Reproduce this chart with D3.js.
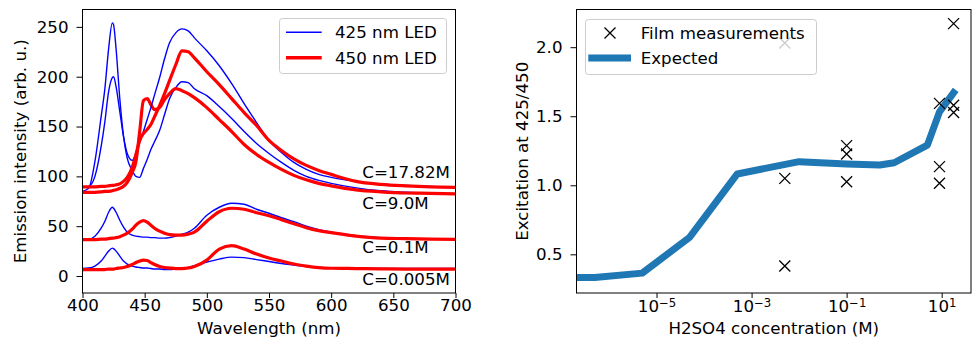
<!DOCTYPE html>
<html>
<head>
<meta charset="utf-8">
<script src="https://cdn.jsdelivr.net/npm/d3@7"></script>
<style>
  body { margin: 0; background: #fff; }
  text { font-family: "DejaVu Sans", sans-serif; font-size: 16.67px; fill: #000; }
</style>
</head>
<body>
<script>
// Emission spectra (arb. u.) on one wavelength grid
const wavelengths = [400,405,410,415,418,421,424,425,427,430,433,436,440,443,446,449,452,455,458,462,466,470,475,480,485,490,500,510,520,530,540,550,560,570,580,590,600,620,640,660,680,700];

const blue1782 = [89,90,100,130,155,185,199,200,190,165,140,123,116,123,134,145,157,169,182,199,218,234,244,248,246,239,226,211,193,173,154,136,124,114,107,102,99,95,92.5,91,90,89.5];
const red1782  = [89.5,89.5,89.5,90,90,90.5,91,91,91.5,92.5,95,99,109,122,136,143,147,152,160,171,183,196,212,226,225,219,205,192,178,164,151,136,126,117.5,111,106,102,95,92,90.5,89.5,89];
const blue90   = [85,88,115,160,188,228,254,252,228,178,140,118,106,100,99,108,117,127,135,146,162,178,189,195,194,188,181,170,158,145,133,123,114,106,100,96,93,88.5,85.5,84,83,82.5];
const red90    = [84,84,84,84.5,85,85,85.5,86,86.5,88,90,94,104,115,145,176,178,172,167,169,177,183,188,186,183,179,169,157,145,132,122,114,107,101,96.5,93,90.5,86.5,84.5,83.3,83,82.5];
const blue01   = [37,37,40,48,55,64,69,68,64,56,49,44,41,40,39.5,39,39,38.5,38.5,38,38,38.5,40,42,44,48,61,69,73,72,67,63,58.5,54.5,50,46.5,44,40.5,38.5,37.5,37,37];
const red01    = [36.5,36.5,36.5,37,37,37.5,38,38,38.5,39.5,41,43,47,51,54,55.5,54,51,48,45,43,41.5,41,41,42,44,55,64.5,68,67,63.5,60.5,56.5,52.5,48.5,45.5,43.5,40,38,37.5,37,36.8];
const blue0005 = [7.5,8,10,15,20,25,28,27.5,25,20,15,12,10,9,8.5,8,8,7.5,7,7,6.5,6.5,7,7.5,8.5,10.5,14,17,19,18.5,16.5,14.5,12.5,11,9.5,8.5,8,7.5,7.5,7.5,7.5,7.5];
const red0005  = [6.5,6.5,6.5,6.5,6.5,7,7,7,7.5,8,8.5,9.5,11.5,13.5,15,16,15.5,13.5,11.5,9.5,8.5,8,7.5,7.5,8,9.5,16,27,30.5,27,22,18,15,12,10,8.5,7.8,7.5,7.2,7,7,7];

const concNames = ["C=17.82M", "C=9.0M", "C=0.1M", "C=0.005M"];
const concNameAt = [98.5, 67, 23, -9];   // intensity where each label sits, at 625 nm

// Excitation ratio vs acid concentration
const expConc  = [0, 5e-7, 5e-6, 5e-5, 5e-4, 0.01, 0.1, 0.5, 1, 5, 9, 17.82];
const expRatio = [0.332, 0.332, 0.364, 0.624, 1.082, 1.171, 1.154, 1.147, 1.163, 1.291, 1.532, 1.67];
const measConc  = [5e-3, 5e-3, 5e-3, 0.1, 0.1, 0.1, 9, 9, 9, 17.82, 17.82, 17.82];
const measRatio = [2.03, 1.05, 0.416, 1.287, 1.226, 1.026, 1.593, 1.135, 1.015, 2.171, 1.58, 1.527];

const wlTicks = [400, 450, 500, 550, 600, 650, 700];
const intTicks = [0, 50, 100, 150, 200, 250];
const concTicks = [1e-5, 1e-3, 1e-1, 1e1];
const ratioTicks = [0.5, 1.0, 1.5, 2.0];

const BLUE = "#0000ff", RED = "#ff0000", TAB = "#1f77b4";

const svg = d3.select("body").append("svg")
    .attr("width", 980)
    .attr("height", 352);

// two panels, in pixels
const L = {left: 82.5, right: 455.5, top: 9.5, bottom: 293};
const R = {left: 576.5, right: 971, top: 9.5, bottom: 293};

const x1 = d3.scaleLinear().domain([400, 700]).range([L.left, L.right]);
const y1 = d3.scaleLinear().domain([-17.05, 267.45]).range([L.bottom, L.top]);
const x2 = d3.scaleLog().domain([Math.pow(10, -6.684), Math.pow(10, 1.617)]).range([R.left, R.right]);
const y2 = d3.scaleLinear().domain([0.220, 2.273]).range([R.bottom, R.top]);

const cleanAxis = g => {
    g.attr("font-size", null).attr("font-family", null);
    g.select(".domain").remove();
    g.selectAll(".tick line").attr("stroke", "#000").attr("stroke-width", 1);
    g.selectAll(".tick text").attr("fill", "#000");
}

// ---------- left panel ----------
svg.append("g")
    .attr("transform", `translate(0,${L.bottom})`)
    .call(d3.axisBottom(x1).tickValues(wlTicks).tickSize(5).tickPadding(1).tickSizeOuter(0))
    .call(cleanAxis);

svg.append("g")
    .attr("transform", `translate(${L.left},0)`)
    .call(d3.axisLeft(y1).tickValues(intTicks).tickSize(6).tickPadding(8).tickSizeOuter(0))
    .call(cleanAxis);

const spectra = [
    {v: blue0005, c: BLUE, w: 1.4}, {v: red0005, c: RED, w: 3.2},
    {v: blue01, c: BLUE, w: 1.4},   {v: red01, c: RED, w: 3.2},
    {v: blue90, c: BLUE, w: 1.4},   {v: red90, c: RED, w: 3.2},
    {v: blue1782, c: BLUE, w: 1.4}, {v: red1782, c: RED, w: 3.2},
];

const specLine = d3.line()
    .x((d, i) => x1(wavelengths[i]))
    .y(d => y1(d))
    .curve(d3.curveMonotoneX);

svg.append("g").selectAll("path")
    .data(spectra)
    .join("path")
    .attr("d", d => specLine(d.v))
    .attr("fill", "none")
    .attr("stroke", d => d.c)
    .attr("stroke-width", d => d.w)
    .attr("stroke-linejoin", "round");

svg.append("g").selectAll("text")
    .data(concNames)
    .join("text")
    .attr("x", x1(625))
    .attr("y", (d, i) => y1(concNameAt[i]))
    .text(d => d);

svg.append("rect")
    .attr("x", L.left).attr("y", L.top)
    .attr("width", L.right - L.left).attr("height", L.bottom - L.top)
    .attr("fill", "none").attr("stroke", "#000").attr("stroke-width", 1);

svg.append("text")
    .attr("x", (L.left + L.right) / 2).attr("y", 334)
    .attr("text-anchor", "middle")
    .text("Wavelength (nm)");

svg.append("text")
    .attr("transform", `translate(26,${(L.top + L.bottom) / 2}) rotate(-90)`)
    .attr("text-anchor", "middle")
    .text("Emission intensity (arb. u.)");

// legend
const legL = svg.append("g");
legL.append("rect")
    .attr("x", 279.5).attr("y", 18.5).attr("width", 167).attr("height", 55)
    .attr("rx", 3)
    .attr("fill", "#fff").attr("fill-opacity", 0.8)
    .attr("stroke", "#cccccc");
const legItems = [{t: "425 nm LED", c: BLUE, w: 1.5}, {t: "450 nm LED", c: RED, w: 3.5}];
legItems.forEach((it, i) => {
    const yy = 32.3 + i * 25.4;
    legL.append("line").attr("x1", 286).attr("x2", 321.7).attr("y1", yy).attr("y2", yy)
        .attr("stroke", it.c).attr("stroke-width", it.w);
    legL.append("text").attr("x", 335).attr("y", yy + 6).text(it.t);
});

// ---------- right panel ----------
const gx2 = svg.append("g")
    .attr("transform", `translate(0,${R.bottom})`)
    .call(d3.axisBottom(x2).tickValues(concTicks).tickSize(5).tickPadding(2).tickSizeOuter(0))
    .call(cleanAxis);

gx2.selectAll(".tick text").each(function(d) {
    const t = d3.select(this).text("10");
    t.append("tspan")
        .attr("dy", "-0.45em")
        .style("font-size", "11.7px")
        .text(String(Math.round(Math.log10(d))).replace("-", "\u2212"));
});

svg.append("g")
    .attr("transform", `translate(${R.left},0)`)
    .call(d3.axisLeft(y2).tickValues(ratioTicks).tickFormat(d3.format(".1f")).tickSize(6).tickPadding(8).tickSizeOuter(0))
    .call(cleanAxis);

svg.append("clipPath").attr("id", "clipR")
    .append("rect")
    .attr("x", R.left).attr("y", R.top)
    .attr("width", R.right - R.left).attr("height", R.bottom - R.top);

const expLine = d3.line()
    .x((d, i) => x2(Math.max(expConc[i], 1e-9)))
    .y(d => y2(d));

svg.append("path")
    .attr("clip-path", "url(#clipR)")
    .attr("d", expLine(expRatio))
    .attr("fill", "none")
    .attr("stroke", TAB)
    .attr("stroke-width", 7)
    .attr("stroke-linejoin", "round")
    .attr("stroke-linecap", "square");

const cross = "M-5.5,-5.5L5.5,5.5M-5.5,5.5L5.5,-5.5";

svg.append("g").selectAll("path")
    .data(measRatio)
    .join("path")
    .attr("transform", (d, i) => `translate(${x2(measConc[i])},${y2(d)})`)
    .attr("d", cross)
    .attr("fill", "none")
    .attr("stroke", "#000")
    .attr("stroke-width", 1.3);

svg.append("rect")
    .attr("x", R.left).attr("y", R.top)
    .attr("width", R.right - R.left).attr("height", R.bottom - R.top)
    .attr("fill", "none").attr("stroke", "#000").attr("stroke-width", 1);

svg.append("text")
    .attr("x", (R.left + R.right) / 2).attr("y", 334)
    .attr("text-anchor", "middle")
    .text("H2SO4 concentration (M)");

svg.append("text")
    .attr("transform", `translate(527.5,${(R.top + R.bottom) / 2}) rotate(-90)`)
    .attr("text-anchor", "middle")
    .text("Excitation at 425/450");

// legend (drawn over the points, so the one under it shows pale)
const legR = svg.append("g");
legR.append("rect")
    .attr("x", 585.5).attr("y", 19.5).attr("width", 231).attr("height", 55)
    .attr("rx", 3)
    .attr("fill", "#fff").attr("fill-opacity", 0.8)
    .attr("stroke", "#cccccc");
legR.append("path")
    .attr("transform", "translate(610,33)")
    .attr("d", cross)
    .attr("fill", "none").attr("stroke", "#000").attr("stroke-width", 1.3);
legR.append("text").attr("x", 640.7).attr("y", 38.5).text("Film measurements");
legR.append("line").attr("x1", 588.3).attr("x2", 631).attr("y1", 58).attr("y2", 58)
    .attr("stroke", TAB).attr("stroke-width", 7);
legR.append("text").attr("x", 640.7).attr("y", 63.8).text("Expected");
</script>
</body>
</html>
